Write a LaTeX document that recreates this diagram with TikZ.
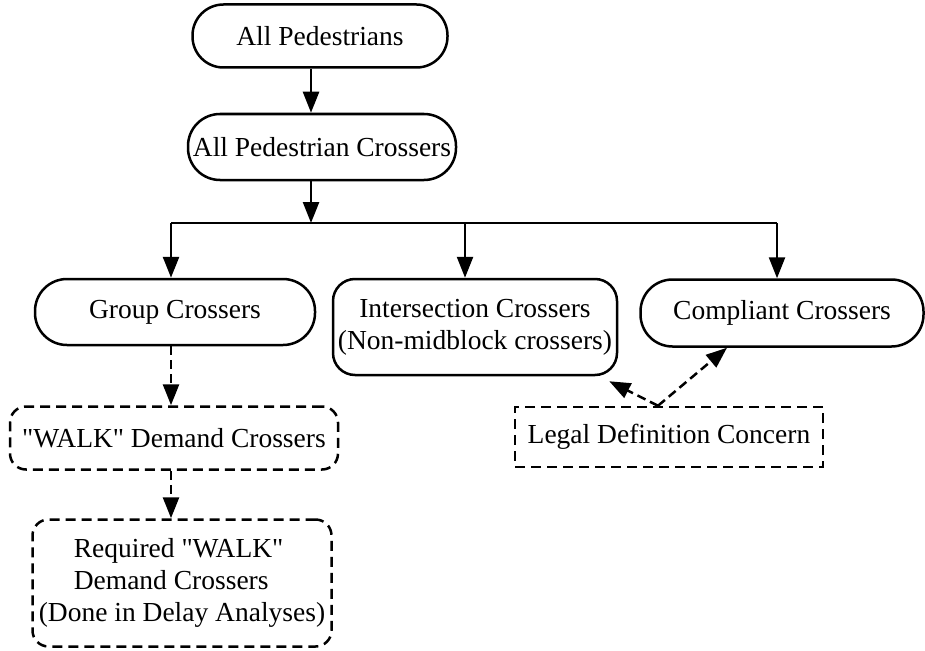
\documentclass[tikz,border=0pt]{standalone}
\usepackage{fontspec}
\setmainfont{Liberation Serif}[Ligatures=TeXOff]
\usetikzlibrary{arrows.meta}
\begin{document}
\begin{tikzpicture}[x=1pt,y=-1pt,
  every node/.style={font=\fontsize{27.5}{32}\selectfont},
  pill/.style={draw,line width=2.5pt,rounded corners=#1,inner sep=0pt,align=center},
  dpill/.style={pill=#1,dash pattern=on 10pt off 6pt},
  dbox/.style={draw,line width=2.5pt,dash pattern=on 10pt off 6pt,inner sep=0pt,align=center},
  arr/.style={line width=2.5pt,-{Triangle[length=21pt,width=16pt]}},
  darr/.style={arr,dash pattern=on 9pt off 5pt}]
\useasboundingbox (0,0) rectangle (925,650);
\node[pill=31pt,minimum width=255pt,minimum height=63pt] (ap) at (320,36) {All Pedestrians};
\node[pill=32pt,minimum width=268pt,minimum height=66pt] (apc) at (322,147) {All Pedestrian Crossers};
\node[pill=32pt,minimum width=280pt,minimum height=66pt] (gc) at (175,312) {Group Crossers};
\node[pill=22pt,minimum width=284pt,minimum height=96pt] (ic) at (475,327) {Intersection Crossers\\(Non-midblock crossers)};
\node[pill=32pt,minimum width=283pt,minimum height=67pt] (cc) at (782,313) {Compliant Crossers};
\node[dbox,minimum width=308pt,minimum height=60pt] (ld) at (669,437) {Legal Definition Concern};
\node[dpill=16pt,minimum width=328pt,minimum height=63pt] (wd) at (174,438) {"WALK" Demand Crossers};
\node[dpill=16pt,minimum width=299pt,minimum height=127pt,align=left] (rw) at (182,583)
  {\hspace*{35pt}Required "WALK"\\\hspace*{35pt}Demand Crossers\\(Done in Delay Analyses)};
\coordinate (j) at (311,223);
\draw[arr] (ap.south -| j) -- (apc.north -| j);
\draw[arr] (apc.south -| j) -- (j);
\draw[line width=2.5pt] ([xshift=-4pt]gc.north |- j) -- ([xshift=-5pt]cc.north |- j);
\draw[arr] ([xshift=-4pt]gc.north |- j) -- ([xshift=-4pt]gc.north);
\draw[arr] ([xshift=-10pt]ic.north |- j) -- ([xshift=-10pt]ic.north);
\draw[arr] ([xshift=-5pt]cc.north |- j) -- ([xshift=-5pt]cc.north);
\draw[darr] ([xshift=-4pt]gc.south) -- ([xshift=-3pt]wd.north);
\draw[darr] ([xshift=-3pt]wd.south) -- ([xshift=-11pt]rw.north);
\coordinate (lt) at ([xshift=-11pt]ld.north);
\draw[darr] (lt) -- ([xshift=-9pt,yshift=-5pt]ic.south east);
\draw[darr] (lt) -- ([xshift=-55pt]cc.south);
\end{tikzpicture}
\end{document}
